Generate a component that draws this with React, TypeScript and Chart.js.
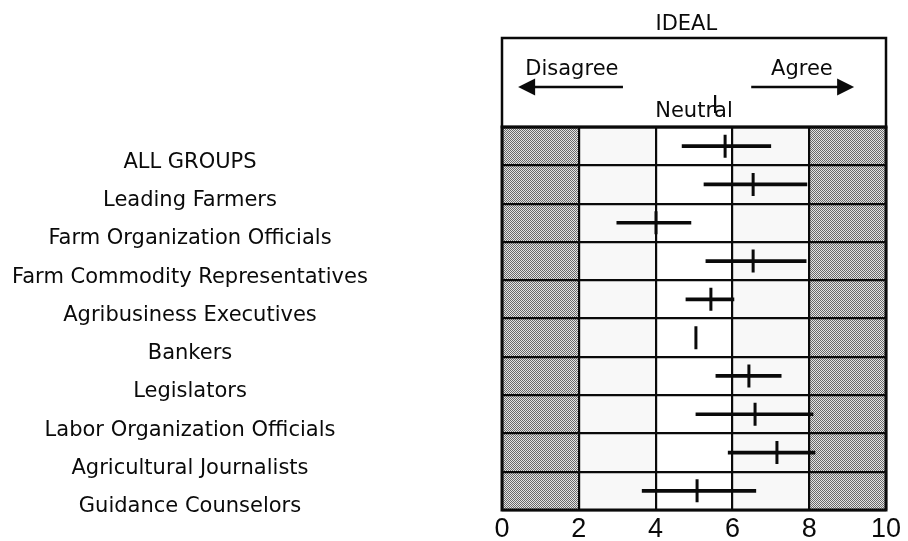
import React, { useEffect, useRef } from 'react';
import { Chart, registerables } from 'chart.js';

Chart.register(...registerables);

// ---------- data ----------
const groups = [
  'ALL GROUPS',
  'Leading Farmers',
  'Farm Organization Officials',
  'Farm Commodity Representatives',
  'Agribusiness Executives',
  'Bankers',
  'Legislators',
  'Labor Organization Officials',
  'Agricultural Journalists',
  'Guidance Counselors',
];
const rangeLow = [4.69, 5.26, 2.99, 5.31, 4.79, 5.05, 5.57, 5.05, 5.89, 3.65];
const rangeHigh = [7.0, 7.94, 4.92, 7.92, 6.04, 5.05, 7.27, 8.1, 8.15, 6.61];
const means = [5.81, 6.54, 4.01, 6.54, 5.44, 5.05, 6.43, 6.59, 7.16, 5.08];
const xTickValues = [0, 2, 4, 6, 8, 10];
const darkBands = [[0, 2], [8, 10]];
const lightBands = [[2, 4], [6, 8]];
const idealValue = 5.55;
const headerTitle = 'IDEAL';
const headerTitleValue = 4.8;
const disagreeText = 'Disagree';
const disagreeValue = 1.82;
const disagreeArrow = [3.15, 0.42];
const agreeText = 'Agree';
const agreeValue = 7.81;
const agreeArrow = [6.49, 9.17];
const neutralText = 'Neutral';
const neutralValue = 5.0;

const INK = '#0a0a0a';
const LABEL_FONT = '21px "DejaVu Sans"';

function makeHalftone(ctx: CanvasRenderingContext2D) {
  const c = document.createElement('canvas');
  c.width = 2;
  c.height = 2;
  const g = c.getContext('2d')!;
  g.fillStyle = '#e4e4e4';
  g.fillRect(0, 0, 2, 2);
  g.fillStyle = '#6a6a6a';
  g.fillRect(0, 0, 1, 1);
  g.fillRect(1, 1, 1, 1);
  return ctx.createPattern(c, 'repeat')!;
}

function arrow(ctx: CanvasRenderingContext2D, from: number, to: number, y: number) {
  const dir = Math.sign(to - from);
  const head = 17;
  ctx.beginPath();
  ctx.moveTo(from, y);
  ctx.lineTo(to - dir * head * 0.6, y);
  ctx.lineWidth = 2.4;
  ctx.strokeStyle = INK;
  ctx.stroke();
  ctx.beginPath();
  ctx.moveTo(to, y);
  ctx.lineTo(to - dir * head, y - 8.5);
  ctx.lineTo(to - dir * head, y + 8.5);
  ctx.closePath();
  ctx.fillStyle = INK;
  ctx.fill();
}

const decorPlugin = {
  id: 'decor',
  beforeDraw(chart: any) {
    const { ctx, chartArea: a, scales } = chart;
    const x = scales.x;
    ctx.save();
    ctx.fillStyle = '#ffffff';
    ctx.fillRect(0, 0, chart.width, chart.height);
    const pat = makeHalftone(ctx);
    for (const [s, e] of darkBands) {
      const x0 = x.getPixelForValue(s);
      const x1 = x.getPixelForValue(e);
      ctx.fillStyle = pat;
      ctx.fillRect(x0, a.top, x1 - x0, a.bottom - a.top);
    }
    for (const [s, e] of lightBands) {
      const x0 = x.getPixelForValue(s);
      const x1 = x.getPixelForValue(e);
      ctx.fillStyle = '#f8f8f8';
      ctx.fillRect(x0, a.top, x1 - x0, a.bottom - a.top);
    }
    ctx.restore();
  },
  afterDraw(chart: any) {
    const { ctx, chartArea: a, scales } = chart;
    const x = scales.x;
    const y = scales.y;
    ctx.save();
    // plot border
    ctx.strokeStyle = INK;
    ctx.lineWidth = 3;
    ctx.strokeRect(a.left, a.top, a.right - a.left, a.bottom - a.top);
    // header box
    const hTop = 38;
    ctx.lineWidth = 2.5;
    ctx.strokeRect(a.left, hTop, a.right - a.left, a.top - hTop);

    ctx.fillStyle = INK;
    ctx.font = '21px "DejaVu Sans"';
    ctx.textAlign = 'center';
    ctx.textBaseline = 'alphabetic';
    ctx.fillText(headerTitle, x.getPixelForValue(headerTitleValue), 30);
    ctx.fillText(disagreeText, x.getPixelForValue(disagreeValue), 75);
    ctx.fillText(agreeText, x.getPixelForValue(agreeValue), 75);
    ctx.fillText(neutralText, x.getPixelForValue(neutralValue), 117);
    arrow(ctx, x.getPixelForValue(disagreeArrow[0]), x.getPixelForValue(disagreeArrow[1]), 87);
    arrow(ctx, x.getPixelForValue(agreeArrow[0]), x.getPixelForValue(agreeArrow[1]), 87);
    // ideal mark
    const ix = x.getPixelForValue(idealValue);
    ctx.beginPath();
    ctx.moveTo(ix, 95);
    ctx.lineTo(ix, 113);
    ctx.lineWidth = 2.2;
    ctx.stroke();

    // group labels
    ctx.font = LABEL_FONT;
    ctx.textAlign = 'center';
    groups.forEach((g, i) => {
      ctx.fillText(g, 190, y.getPixelForValue(i) + 21.5);
    });
    ctx.restore();
  },
};

export default function App() {
  const ref = useRef<HTMLCanvasElement | null>(null);
  useEffect(() => {
    if (!ref.current) return;
    const chart = new Chart(ref.current, {
      type: 'bar',
      data: {
        labels: groups,
        datasets: [
          {
            label: 'Range',
            data: rangeLow.map((lo, i) => [lo, rangeHigh[i]]) as any,
            backgroundColor: INK,
            borderWidth: 0,
            barThickness: 3,
            grouped: false,
          } as any,
          {
            type: 'line',
            label: 'Mean',
            data: means.map((m, i) => ({ x: m, y: groups[i] })) as any,
            showLine: false,
            pointStyle: 'line',
            rotation: 90,
            pointRadius: 11.5,
            pointBorderWidth: 3,
            pointBorderColor: INK,
            pointBackgroundColor: INK,
            borderColor: INK,
          } as any,
        ],
      },
      options: {
        indexAxis: 'y',
        responsive: false,
        animation: false,
        events: [],
        layout: { padding: { top: 127, right: 22, left: 0, bottom: 0 } },
        plugins: {
          legend: { display: false },
          tooltip: { enabled: false },
          title: { display: false },
        },
        scales: {
          x: {
            type: 'linear',
            min: 0,
            max: 10,
            afterFit: (s: any) => {
              s.height = 31;
            },
            afterBuildTicks: (s: any) => {
              s.ticks = xTickValues.map((v) => ({ value: v }));
            },
            grid: { color: INK, lineWidth: 2.2, drawTicks: false },
            border: { display: false },
            ticks: {
              color: INK,
              padding: 3,
              font: { family: '"Liberation Sans"', size: 27 },
              maxRotation: 0,
            },
          },
          y: {
            type: 'category',
            afterFit: (s: any) => {
              s.width = 502;
            },
            grid: { color: INK, lineWidth: 2.2, drawTicks: false, offset: true },
            border: { display: false },
            ticks: { display: false },
          },
        },
      } as any,
      plugins: [decorPlugin],
    });
    return () => chart.destroy();
  }, []);
  return (
    <div style={{ position: 'fixed', left: 0, top: 0, width: 908, height: 541, background: '#fff' }}>
      <canvas ref={ref} width={908} height={541} style={{ display: 'block' }} />
    </div>
  );
}
